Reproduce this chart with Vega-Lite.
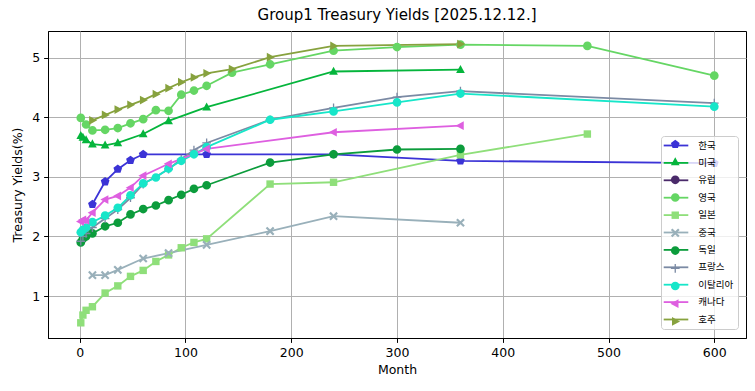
{
  "$schema": "https://vega.github.io/schema/vega-lite/v6.json",
  "autosize": "none",
  "width": 698,
  "height": 307,
  "padding": {"left": 48, "top": 31, "right": 9, "bottom": 53},
  "background": "white",
  "title": {"text": "Group1 Treasury Yields [2025.12.12.]", "font": "DejaVu Sans", "fontSize": 15, "fontWeight": "normal", "color": "black", "offset": 8, "anchor": "middle"},
  "config": {
    "view": {"stroke": "black", "strokeWidth": 1},
    "axis": {"labelFont": "DejaVu Sans", "labelFontSize": 12.5, "labelColor": "black", "tickColor": "black", "tickSize": 4.4, "tickWidth": 1, "domainColor": "black", "domainWidth": 1, "gridColor": "#b0b0b0", "gridWidth": 1, "titleFont": "DejaVu Sans", "titleFontSize": 12.5, "titleFontWeight": "normal", "titleColor": "black", "labelPadding": 4}
  },
  "data": {"values": [
    {"c": "한국", "m": 12, "y": 2.54}, {"c": "한국", "m": 24, "y": 2.92}, {"c": "한국", "m": 36, "y": 3.13}, {"c": "한국", "m": 48, "y": 3.28}, {"c": "한국", "m": 60, "y": 3.38}, {"c": "한국", "m": 120, "y": 3.38}, {"c": "한국", "m": 240, "y": 3.38}, {"c": "한국", "m": 360, "y": 3.27}, {"c": "한국", "m": 600, "y": 3.23},
    {"c": "미국", "m": 1, "y": 3.69}, {"c": "미국", "m": 3, "y": 3.66}, {"c": "미국", "m": 6, "y": 3.62}, {"c": "미국", "m": 12, "y": 3.55}, {"c": "미국", "m": 24, "y": 3.53}, {"c": "미국", "m": 36, "y": 3.57}, {"c": "미국", "m": 60, "y": 3.72}, {"c": "미국", "m": 84, "y": 3.94}, {"c": "미국", "m": 120, "y": 4.17}, {"c": "미국", "m": 240, "y": 4.77}, {"c": "미국", "m": 360, "y": 4.8},
    {"c": "영국", "m": 1, "y": 3.99}, {"c": "영국", "m": 6, "y": 3.88}, {"c": "영국", "m": 12, "y": 3.78}, {"c": "영국", "m": 24, "y": 3.79}, {"c": "영국", "m": 36, "y": 3.82}, {"c": "영국", "m": 48, "y": 3.9}, {"c": "영국", "m": 60, "y": 3.97}, {"c": "영국", "m": 72, "y": 4.12}, {"c": "영국", "m": 84, "y": 4.11}, {"c": "영국", "m": 96, "y": 4.38}, {"c": "영국", "m": 108, "y": 4.45}, {"c": "영국", "m": 120, "y": 4.53}, {"c": "영국", "m": 144, "y": 4.75}, {"c": "영국", "m": 180, "y": 4.89}, {"c": "영국", "m": 240, "y": 5.12}, {"c": "영국", "m": 300, "y": 5.18}, {"c": "영국", "m": 360, "y": 5.22}, {"c": "영국", "m": 480, "y": 5.2}, {"c": "영국", "m": 600, "y": 4.7},
    {"c": "일본", "m": 1, "y": 0.55}, {"c": "일본", "m": 3, "y": 0.68}, {"c": "일본", "m": 6, "y": 0.76}, {"c": "일본", "m": 12, "y": 0.82}, {"c": "일본", "m": 24, "y": 1.05}, {"c": "일본", "m": 36, "y": 1.17}, {"c": "일본", "m": 48, "y": 1.33}, {"c": "일본", "m": 60, "y": 1.43}, {"c": "일본", "m": 72, "y": 1.58}, {"c": "일본", "m": 84, "y": 1.69}, {"c": "일본", "m": 96, "y": 1.81}, {"c": "일본", "m": 108, "y": 1.9}, {"c": "일본", "m": 120, "y": 1.96}, {"c": "일본", "m": 180, "y": 2.88}, {"c": "일본", "m": 240, "y": 2.91}, {"c": "일본", "m": 360, "y": 3.37}, {"c": "일본", "m": 480, "y": 3.72},
    {"c": "중국", "m": 12, "y": 1.35}, {"c": "중국", "m": 24, "y": 1.35}, {"c": "중국", "m": 36, "y": 1.44}, {"c": "중국", "m": 60, "y": 1.63}, {"c": "중국", "m": 84, "y": 1.72}, {"c": "중국", "m": 120, "y": 1.86}, {"c": "중국", "m": 180, "y": 2.09}, {"c": "중국", "m": 240, "y": 2.34}, {"c": "중국", "m": 360, "y": 2.23},
    {"c": "독일", "m": 1, "y": 1.9}, {"c": "독일", "m": 3, "y": 1.96}, {"c": "독일", "m": 6, "y": 2.0}, {"c": "독일", "m": 12, "y": 2.05}, {"c": "독일", "m": 24, "y": 2.17}, {"c": "독일", "m": 36, "y": 2.23}, {"c": "독일", "m": 48, "y": 2.37}, {"c": "독일", "m": 60, "y": 2.46}, {"c": "독일", "m": 72, "y": 2.52}, {"c": "독일", "m": 84, "y": 2.61}, {"c": "독일", "m": 96, "y": 2.7}, {"c": "독일", "m": 108, "y": 2.8}, {"c": "독일", "m": 120, "y": 2.86}, {"c": "독일", "m": 180, "y": 3.24}, {"c": "독일", "m": 240, "y": 3.38}, {"c": "독일", "m": 300, "y": 3.46}, {"c": "독일", "m": 360, "y": 3.47},
    {"c": "프랑스", "m": 1, "y": 1.92}, {"c": "프랑스", "m": 3, "y": 2.0}, {"c": "프랑스", "m": 6, "y": 2.05}, {"c": "프랑스", "m": 12, "y": 2.15}, {"c": "프랑스", "m": 24, "y": 2.3}, {"c": "프랑스", "m": 36, "y": 2.45}, {"c": "프랑스", "m": 48, "y": 2.65}, {"c": "프랑스", "m": 60, "y": 2.88}, {"c": "프랑스", "m": 84, "y": 3.13}, {"c": "프랑스", "m": 96, "y": 3.3}, {"c": "프랑스", "m": 108, "y": 3.45}, {"c": "프랑스", "m": 120, "y": 3.57}, {"c": "프랑스", "m": 180, "y": 3.96}, {"c": "프랑스", "m": 240, "y": 4.16}, {"c": "프랑스", "m": 300, "y": 4.34}, {"c": "프랑스", "m": 360, "y": 4.44}, {"c": "프랑스", "m": 600, "y": 4.24},
    {"c": "이탈리아", "m": 1, "y": 2.07}, {"c": "이탈리아", "m": 3, "y": 2.11}, {"c": "이탈리아", "m": 6, "y": 2.15}, {"c": "이탈리아", "m": 12, "y": 2.24}, {"c": "이탈리아", "m": 24, "y": 2.35}, {"c": "이탈리아", "m": 36, "y": 2.48}, {"c": "이탈리아", "m": 48, "y": 2.69}, {"c": "이탈리아", "m": 60, "y": 2.89}, {"c": "이탈리아", "m": 72, "y": 2.99}, {"c": "이탈리아", "m": 84, "y": 3.14}, {"c": "이탈리아", "m": 96, "y": 3.27}, {"c": "이탈리아", "m": 108, "y": 3.38}, {"c": "이탈리아", "m": 120, "y": 3.5}, {"c": "이탈리아", "m": 180, "y": 3.96}, {"c": "이탈리아", "m": 240, "y": 4.1}, {"c": "이탈리아", "m": 300, "y": 4.25}, {"c": "이탈리아", "m": 360, "y": 4.4}, {"c": "이탈리아", "m": 600, "y": 4.18},
    {"c": "캐나다", "m": 1, "y": 2.25}, {"c": "캐나다", "m": 3, "y": 2.28}, {"c": "캐나다", "m": 6, "y": 2.27}, {"c": "캐나다", "m": 12, "y": 2.4}, {"c": "캐나다", "m": 24, "y": 2.62}, {"c": "캐나다", "m": 36, "y": 2.68}, {"c": "캐나다", "m": 48, "y": 2.82}, {"c": "캐나다", "m": 60, "y": 3.02}, {"c": "캐나다", "m": 84, "y": 3.22}, {"c": "캐나다", "m": 120, "y": 3.47}, {"c": "캐나다", "m": 240, "y": 3.75}, {"c": "캐나다", "m": 360, "y": 3.86},
    {"c": "호주", "m": 12, "y": 3.95}, {"c": "호주", "m": 24, "y": 4.04}, {"c": "호주", "m": 36, "y": 4.13}, {"c": "호주", "m": 48, "y": 4.21}, {"c": "호주", "m": 60, "y": 4.29}, {"c": "호주", "m": 72, "y": 4.39}, {"c": "호주", "m": 84, "y": 4.49}, {"c": "호주", "m": 96, "y": 4.59}, {"c": "호주", "m": 108, "y": 4.67}, {"c": "호주", "m": 120, "y": 4.74}, {"c": "호주", "m": 144, "y": 4.81}, {"c": "호주", "m": 180, "y": 5.01}, {"c": "호주", "m": 240, "y": 5.2}, {"c": "호주", "m": 360, "y": 5.23}
  ]},
  "encoding": {
    "x": {"field": "m", "type": "quantitative", "scale": {"domain": [-30, 630], "nice": false, "zero": false}, "axis": {"values": [0, 100, 200, 300, 400, 500, 600], "title": "Month", "titlePadding": 5}},
    "y": {"field": "y", "type": "quantitative", "scale": {"domain": [0.295, 5.45], "nice": false, "zero": false}, "axis": {"values": [1, 2, 3, 4, 5], "title": "Treasury Yields(%)", "titlePadding": 7}}
  },
  "layer": [
    {"mark": {"type": "line", "strokeWidth": 1.8},
     "encoding": {
       "stroke": {"field": "c", "type": "nominal",
         "scale": {"domain": ["호주", "한국", "미국", "유럽", "영국", "일본", "중국", "독일", "프랑스", "이탈리아", "캐나다"],
                   "range": ["#87a23e", "#3b33d6", "#05b53c", "#4a2a6a", "#65d664", "#8fdf7a", "#99b0ba", "#0c9c3c", "#7b8aa4", "#17e6c9", "#de5fe0"]},
         "legend": {"orient": "none", "legendX": 613, "legendY": 105, "title": null, "zindex": 0,
           "values": ["한국", "미국", "유럽", "영국", "일본", "중국", "독일", "프랑스", "이탈리아", "캐나다", "호주"],
           "labelFont": "Noto Sans CJK KR", "labelFontSize": 9.5, "labelColor": "black", "fillColor": "rgba(255,255,255,0.8)", "strokeColor": "#cccccc", "cornerRadius": 3, "padding": 4, "symbolSize": 76, "symbolType": "M-2.82,0H2.82", "symbolStrokeWidth": 1.8, "rowPadding": 7.4, "symbolOffset": 5.5, "labelOffset": 16.8}}
     }
    },
    {"mark": {"type": "point", "filled": true, "size": 76, "opacity": 1, "strokeWidth": 0},
     "encoding": {
       "color": {"field": "c", "type": "nominal",
         "scale": {"domain": ["한국", "미국", "유럽", "영국", "일본", "중국", "독일", "프랑스", "이탈리아", "캐나다", "호주"],
                   "range": ["#3b33d6", "#05b53c", "#4a2a6a", "#65d664", "#8fdf7a", "#99b0ba", "#0c9c3c", "#7b8aa4", "#17e6c9", "#de5fe0", "#87a23e"]},
         "legend": {"orient": "none", "legendX": 613, "legendY": 104.65, "title": null, "zindex": 1, "labelExpr": "''",
           "labelFont": "Noto Sans CJK KR", "labelFontSize": 9.5, "labelColor": "black", "fillColor": "transparent", "strokeColor": "transparent", "padding": 4, "symbolSize": 76, "symbolStrokeWidth": 0, "symbolOpacity": 1, "rowPadding": 6.7, "symbolOffset": 5.5, "labelOffset": 16.8}},
       "shape": {"field": "c", "type": "nominal",
         "scale": {"domain": ["한국", "미국", "유럽", "영국", "일본", "중국", "독일", "프랑스", "이탈리아", "캐나다", "호주"],
                   "range": ["M0,-1.05L1,-0.32L0.62,0.85L-0.62,0.85L-1,-0.32Z", "M0,-1.1L1,0.75L-1,0.75Z", "M1,0A1,1,0,1,1,-1,0A1,1,0,1,1,1,0Z", "M1,0A1,1,0,1,1,-1,0A1,1,0,1,1,1,0Z", "M-0.85,-0.85H0.85V0.85H-0.85Z", "M0,-0.35L0.65,-1L1,-0.65L0.35,0L1,0.65L0.65,1L0,0.35L-0.65,1L-1,0.65L-0.35,0L-1,-0.65L-0.65,-1Z", "M1,0A1,1,0,1,1,-1,0A1,1,0,1,1,1,0Z", "M-1,-0.15H-0.15V-1H0.15V-0.15H1V0.15H0.15V1H-0.15V0.15H-1Z", "M1,0A1,1,0,1,1,-1,0A1,1,0,1,1,1,0Z", "M-1.1,0L0.75,-1L0.75,1Z", "M1.1,0L-0.75,-1L-0.75,1Z"]},
         "legend": {"orient": "none", "legendX": 613, "legendY": 104.65, "title": null, "zindex": 1, "labelExpr": "''",
           "labelFont": "Noto Sans CJK KR", "labelFontSize": 9.5, "labelColor": "black", "fillColor": "transparent", "strokeColor": "transparent", "padding": 4, "symbolSize": 76, "symbolStrokeWidth": 0, "symbolOpacity": 1, "rowPadding": 6.7, "symbolOffset": 5.5, "labelOffset": 16.8}}
     }
    }
  ]
}
